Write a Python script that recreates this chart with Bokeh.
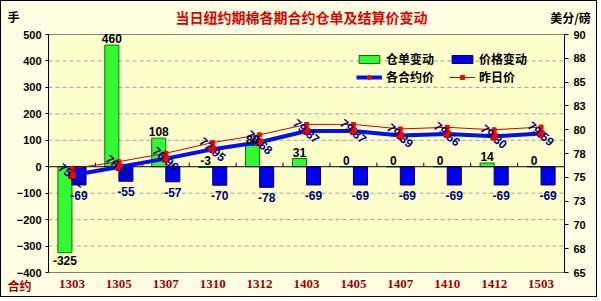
from bokeh.plotting import figure
from bokeh.models import (Range1d, LinearAxis, FixedTicker, Label, Legend,
                          LegendItem, ColumnDataSource)
from bokeh.core.properties import value
from bokeh.embed import file_html
from bokeh.resources import INLINE

# ---------------- data ----------------
contracts = ["1303", "1305", "1307", "1310", "1312", "1403", "1405", "1407", "1410", "1412", "1503"]
wr_change = [-325, 460, 108, -3, 80, 31, 0, 0, 0, 14, 0]          # 仓单变动 (手)
price_change = [-69, -55, -57, -70, -78, -69, -69, -69, -69, -69, -69]  # 价格变动
settle = [75.22, 76.09, 76.96, 77.95, 78.68, 79.87, 79.87, 79.39, 79.56, 79.30, 79.59]  # 各合约价
prev_settle = [75.91, 76.64, 77.53, 78.65, 79.46, 80.56, 80.56, 80.08, 80.25, 79.99, 80.28]  # 昨日价
left_ticks = [-400, -300, -200, -100, 0, 100, 200, 300, 400, 500]
right_ticks = [65, 67.5, 70, 72.5, 75, 77.5, 80, 82.5, 85, 87.5, 90]
right_tick_labels = ["65", "68", "70", "73", "75", "78", "80", "83", "85", "88", "90"]
title_text = "当日纽约期棉各期合约仓单及结算价变动"

FONT = "Liberation Sans"
CJK = "Noto Sans CJK SC"

# ---------------- layout (pixels inside the canvas) ----------------
W, H = 597, 297
PL, PR, PT, PB = 47, 563, 33, 271      # plot-area edges
n = len(contracts)
L0, L1 = left_ticks[0], left_ticks[-1]
R0, R1 = right_ticks[0], right_ticks[-1]
ux = n / (PR - PL)                     # data units per px
uy = (L1 - L0) / (PB - PT)
ur = (R1 - R0) / (PB - PT)


def dx(px):
    return (px - PL) * ux


def dy(py):
    return L1 + (PT - py) * uy


xc = [i + 0.5 for i in range(n)]
xg = [x - 0.15 for x in xc]
xb = [x + 0.15 for x in xc]

p = figure(width=W, height=H,
           x_range=Range1d(dx(0), dx(W)), y_range=Range1d(dy(H), dy(0)),
           output_backend="svg", toolbar_location=None,
           x_axis_location=None, y_axis_location=None,
           min_border=0, background_fill_color="#FFFFE3", border_fill_color="#FFFFE3")
p.styles = {"border": "1px solid #000000"}
p.extra_y_ranges = {"price": Range1d(R0 - (H - PB) * ur, R1 + PT * ur)}
p.outline_line_color = None
for g in p.grid:
    g.visible = False

# plot area background
p.quad(left=[0], right=[n], bottom=[L0], top=[L1], fill_color="#FFFFCC",
       line_color="#808080", line_width=1, level="underlay")
# dashed grid
gy = [t for t in left_ticks if t not in (L0, L1, 0)]
p.segment(x0=[0] * len(gy), x1=[n] * len(gy), y0=gy, y1=gy, line_color="#A0A0A0",
          line_dash="4 3", line_width=1, level="underlay")

# left axis
ya = LinearAxis(fixed_location=0, bounds=(L0, L1), ticker=FixedTicker(ticks=left_ticks))
ya.axis_line_color = "black"
ya.major_tick_line_color = "black"
ya.major_tick_in = 0
ya.major_tick_out = 3
ya.minor_tick_line_color = None
ya.major_label_text_font = FONT
ya.major_label_text_font_style = "bold"
ya.major_label_text_font_size = "11px"
ya.major_label_text_color = "black"
ya.major_label_standoff = 4
p.add_layout(ya, "left")

# bottom axis (categories)
xa = LinearAxis(fixed_location=L0, bounds=(0, n), ticker=FixedTicker(ticks=xc))
xa.major_label_overrides = {x: c for x, c in zip(xc, contracts)}
xa.axis_line_color = None
xa.major_tick_line_color = None
xa.minor_tick_line_color = None
xa.major_label_text_font = "Liberation Serif"
xa.major_label_text_font_style = "bold"
xa.major_label_text_font_size = "13px"
xa.major_label_text_color = "#A00000"
xa.major_label_standoff = 1
p.add_layout(xa, "below")

# right axis (price)
ra = LinearAxis(y_range_name="price", fixed_location=n, bounds=(R0, R1),
                ticker=FixedTicker(ticks=right_ticks),
                major_label_overrides={t: s for t, s in zip(right_ticks, right_tick_labels)})
ra.axis_line_color = "black"
ra.major_tick_line_color = "black"
ra.major_tick_in = 0
ra.major_tick_out = 4
ra.minor_tick_line_color = None
ra.major_label_text_font = FONT
ra.major_label_text_font_style = "bold"
ra.major_label_text_font_size = "11px"
ra.major_label_text_color = "black"
ra.major_label_standoff = 5
p.add_layout(ra, "right")

# bars
gbar = p.vbar(x=xg, top=wr_change, bottom=0, width=0.3, fill_color="#33F833",
              line_color="#007700", line_width=1)
bbar = p.vbar(x=xb, top=price_change, bottom=0, width=0.3, fill_color="#0000F0",
              line_color="#000060", line_width=1)

# zero (category) axis line and boundary ticks
p.segment(x0=[0], x1=[n], y0=[0], y1=[0], line_color="black", line_width=1)
bx = list(range(1, n))
p.segment(x0=bx, x1=bx, y0=[0] * len(bx), y1=[4 * uy] * len(bx), line_color="black", line_width=1)

# price lines
pl = p.line(x=xc, y=prev_settle, y_range_name="price", line_color="#D00000", line_width=1)
ps = p.scatter(x=xc, y=prev_settle, y_range_name="price", marker="square", size=4,
               fill_color="#FF0000", line_color="#FF0000")
sl = p.line(x=xc, y=settle, y_range_name="price", line_color="#0010F0", line_width=4)
ss = p.scatter(x=xc, y=settle, y_range_name="price", marker="circle", size=8,
               fill_color="#FF0000", line_color="#FF0000")

# green bar labels
g_base = ["bottom" if v > -10 else "top" for v in wr_change]
g_off = [-2 if v > -10 else 3 for v in wr_change]
gsrc = ColumnDataSource(dict(x=xg, y=[max(v, 0) if v > -10 else v for v in wr_change],
                             t=[str(v) for v in wr_change], b=g_base, o=g_off))
p.text(x="x", y="y", text="t", source=gsrc, text_align="center", text_baseline="b",
       y_offset="o", text_font=value(FONT), text_font_style="bold", text_font_size="12px",
       text_color="black")

# blue bar labels
bsrc = ColumnDataSource(dict(x=xb, y=price_change, t=[str(v) for v in price_change]))
p.text(x="x", y="y", text="t", source=bsrc, text_align="center", text_baseline="top",
       y_offset=6, text_font=value(FONT), text_font_style="bold", text_font_size="12px",
       text_color="#000080")

# price labels (rotated)
psrc = ColumnDataSource(dict(x=xc, y=settle, t=["%.2f" % v for v in settle]))
p.text(x="x", y="y", text="t", source=psrc, y_range_name="price", angle=-0.7,
       text_align="center", text_baseline="middle", text_font=value(FONT),
       text_font_style="bold", text_font_size="12px", text_color="#000080")

# legend
legend = Legend(items=[
    LegendItem(label="仓单变动", renderers=[gbar]),
    LegendItem(label="价格变动", renderers=[bbar]),
    LegendItem(label="各合约价", renderers=[sl, ss]),
    LegendItem(label="昨日价", renderers=[pl, ps]),
], ncols=2, location=(355, 213), orientation="horizontal")
legend.background_fill_alpha = 0
legend.border_line_color = None
legend.padding = 0
legend.margin = 0
legend.spacing = 1
legend.label_width = 62
legend.glyph_width = 26
legend.glyph_height = 10
legend.label_standoff = 4
legend.label_text_font = CJK
legend.label_text_font_style = "bold"
legend.label_text_font_size = "12px"
legend.label_text_color = "black"
p.add_layout(legend)

# texts around the plot area
p.add_layout(Label(x=dx(300), y=dy(15), text=title_text, text_align="center",
                   text_baseline="middle", text_font=CJK, text_font_style="bold",
                   text_font_size="14px", text_color="#E00000"))
p.add_layout(Label(x=dx(12), y=dy(15), text="手", text_align="center", text_baseline="middle",
                   text_font=CJK, text_font_style="bold", text_font_size="12px", text_color="black"))
p.add_layout(Label(x=dx(569), y=dy(16), text="美分/磅", text_align="center", text_baseline="middle",
                   text_font=CJK, text_font_style="bold", text_font_size="12px", text_color="black"))
p.add_layout(Label(x=dx(18), y=dy(284), text="合约", text_align="center", text_baseline="middle",
                   text_font=CJK, text_font_style="bold", text_font_size="12px", text_color="#A00000"))

open("out.html", "w").write(file_html(p, INLINE))
